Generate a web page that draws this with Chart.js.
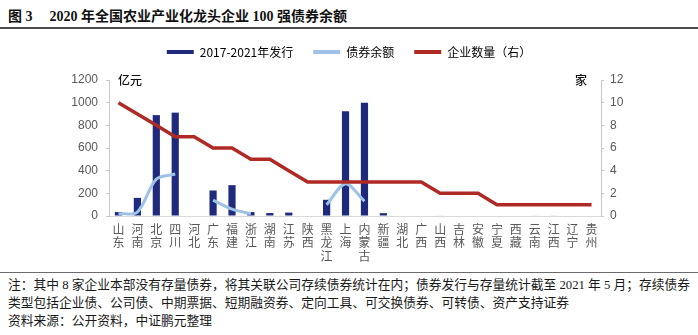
<!DOCTYPE html>
<html lang="zh-CN">
<head>
<meta charset="utf-8">
<title>2020 年全国农业产业化龙头企业 100 强债券余额</title>
<script src="https://cdn.jsdelivr.net/npm/chart.js@4.4.1/dist/chart.umd.min.js"></script>
<style>
  html, body { margin: 0; padding: 0; background: #fff; }
  body { width: 698px; height: 335px; position: relative; overflow: hidden; }
  .serif { font-family: "Liberation Serif", "Noto Sans CJK SC", serif; }
  #title { position: absolute; left: 8px; top: 5px; font-size: 14px; font-weight: bold; color: #111; white-space: nowrap; }
  #title .num { margin-right: 17px; }
  #rule-top { position: absolute; left: 0; top: 27px; width: 698px; height: 2px; background: #4d4d4d; }
  #wrap { position: absolute; left: 0; top: 26px; width: 698px; height: 244px; }
  #rule-bottom { position: absolute; left: 0; top: 272px; width: 698px; height: 1px; background: #6b6b6b; }
  #notes { position: absolute; left: 8px; top: 276px; font-size: 12.75px; line-height: 18px; color: #1a1a1a; white-space: nowrap; }
</style>
</head>
<body>
<div id="title" class="serif"><span class="num">图 3</span>2020 年全国农业产业化龙头企业 100 强债券余额</div>
<div id="rule-top"></div>
<div id="wrap"><canvas id="chart"></canvas></div>
<div id="rule-bottom"></div>
<div id="notes" class="serif">
  <div>注：其中 8 家企业本部没有存量债券，将其关联公司存续债券统计在内；债券发行与存量统计截至 2021 年 5 月；存续债券</div>
  <div>类型包括企业债、公司债、中期票据、短期融资券、定向工具、可交换债券、可转债、资产支持证券</div>
  <div>资料来源：公开资料，中证鹏元整理</div>
</div>
<script>
// Provinces (one character per line on the axis)
const provinces = ['山东','河南','北京','四川','河北','广东','福建','浙江','湖南','江苏','陕西','黑龙江','上海',
                   '内蒙古','新疆','湖北','广西','山西','吉林','安徽','宁夏','西藏','云南','江西','辽宁','贵州'];

// 2017-2021 issuance, 100 million yuan
const issuance = [35, 160, 890, 912, null, 225, 272, 35, 26, 30, null, 143, 925,
                  1000, 25, null, null, 4, null, null, null, null, 4, 5, null, null];

// Outstanding bond balance, 100 million yuan
const balance = [20, 35, 325, 370, null, 140, 60, 20, null, null, null, 100, 285,
                 130, null, null, null, null, null, null, null, null, null, null, null, null];

// Number of enterprises per province (right axis)
const enterprises = [10, 9, 8, 7, 7, 6, 6, 5, 5, 4, 3, 3, 3,
                     3, 3, 3, 3, 2, 2, 2, 1, 1, 1, 1, 1, 1];

const seriesNames = ['2017-2021年发行', '债券余额', '企业数量（右）'];
const leftTicks = [0, 200, 400, 600, 800, 1000, 1200];
const rightTicks = [0, 2, 4, 6, 8, 10, 12];

const NAVY = '#1f2a7d';
const LIGHT_BLUE = '#9ec2e6';
const DARK_RED = '#b02a25';
const TICK_GREY = '#595959';
const AXIS_GREY = '#c8c8c8';

const labelFont = { family: '"Noto Sans CJK SC", sans-serif', size: 12 };
const numFont = { family: '"Liberation Sans", Arial, sans-serif', size: 12 };

// Fixed geometry for legend band and axis gutters
const layoutPlugin = {
  id: 'fixedLayout',
  beforeInit(chart) {
    const fit = chart.legend.fit;
    chart.legend.fit = function () {
      fit.call(this);
      this.height = 54;
    };
  }
};

// Unit captions at the top of each value axis
const unitPlugin = {
  id: 'units',
  afterDraw(chart) {
    const { ctx, chartArea, scales } = chart;
    const y = scales.y.getPixelForValue(1200);
    ctx.save();
    ctx.fillStyle = '#111';
    ctx.font = '500 12px "Noto Sans CJK SC", sans-serif';
    ctx.textBaseline = 'middle';
    ctx.textAlign = 'left';
    ctx.fillText('亿元', chartArea.left + 9, y);
    ctx.textAlign = 'right';
    ctx.fillText('家', chartArea.right - 14, y);
    ctx.restore();
  }
};

new Chart(document.getElementById('chart'), {
  data: {
    labels: provinces.map(p => p.split('')),
    datasets: [
      {
        type: 'bar',
        label: seriesNames[0],
        data: issuance,
        backgroundColor: NAVY,
        borderWidth: 0,
        barPercentage: 0.38,
        categoryPercentage: 1,
        yAxisID: 'y',
        order: 3
      },
      {
        type: 'line',
        label: seriesNames[1],
        data: balance,
        borderColor: LIGHT_BLUE,
        backgroundColor: LIGHT_BLUE,
        borderWidth: 3,
        pointRadius: 0,
        tension: 0.3,
        spanGaps: false,
        yAxisID: 'y',
        order: 2
      },
      {
        type: 'line',
        label: seriesNames[2],
        data: enterprises,
        borderColor: DARK_RED,
        backgroundColor: DARK_RED,
        borderWidth: 3.5,
        pointRadius: 0,
        tension: 0,
        yAxisID: 'y1',
        order: 1
      }
    ]
  },
  options: {
    responsive: true,
    maintainAspectRatio: false,
    animation: false,
    layout: { padding: { top: 0, left: 0, right: 0, bottom: 0 } },
    plugins: {
      tooltip: { enabled: false },
      legend: {
        position: 'top',
        align: 'center',
        labels: {
          font: labelFont,
          color: '#404040',
          boxWidth: 27,
          boxHeight: 4,
          padding: 20,
          generateLabels(chart) {
            return chart.data.datasets.map((ds, i) => ({
              text: ds.label,
              fillStyle: ds.type === 'bar' ? ds.backgroundColor : ds.borderColor,
              strokeStyle: ds.type === 'bar' ? ds.backgroundColor : ds.borderColor,
              lineWidth: 0,
              hidden: false,
              datasetIndex: i
            }));
          }
        }
      }
    },
    scales: {
      x: {
        type: 'category',
        offset: true,
        grid: { display: true, drawOnChartArea: false, drawTicks: false },
        border: { display: true, color: '#d9d9d9', width: 1 },
        ticks: {
          font: { ...labelFont, lineHeight: 1.1 },
          color: TICK_GREY,
          autoSkip: false,
          maxRotation: 0,
          minRotation: 0,
          padding: 7
        },
        afterFit(scale) { scale.height = 54; }
      },
      y: {
        type: 'linear',
        position: 'left',
        min: 0,
        max: 1200,
        afterBuildTicks(scale) { scale.ticks = leftTicks.map(v => ({ value: v })); },
        grid: { drawOnChartArea: false, drawTicks: true, tickLength: 3, color: AXIS_GREY },
        border: { display: true, color: AXIS_GREY, width: 1 },
        ticks: { font: numFont, color: TICK_GREY, padding: 8, callback: v => String(v) },
        afterFit(scale) { scale.width = 109; }
      },
      y1: {
        type: 'linear',
        position: 'right',
        min: 0,
        max: 12,
        afterBuildTicks(scale) { scale.ticks = rightTicks.map(v => ({ value: v })); },
        grid: { drawOnChartArea: false, drawTicks: true, tickLength: 3, color: AXIS_GREY },
        border: { display: true, color: AXIS_GREY, width: 1 },
        ticks: { font: numFont, color: TICK_GREY, padding: 6, callback: v => String(v) },
        afterFit(scale) { scale.width = 97; }
      }
    }
  },
  plugins: [layoutPlugin, unitPlugin]
});
</script>
</body>
</html>
